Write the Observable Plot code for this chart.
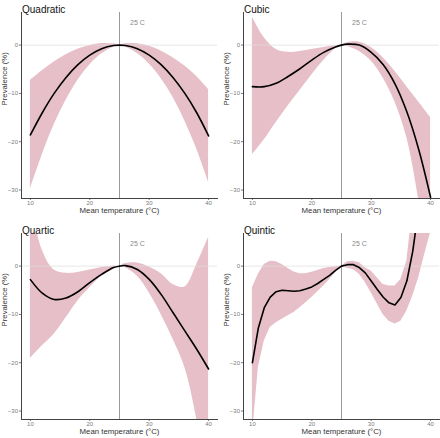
<!DOCTYPE html>
<html>
<head>
<meta charset="utf-8">
<script src="https://cdn.jsdelivr.net/npm/d3@7"></script>
<script src="https://cdn.jsdelivr.net/npm/@observablehq/plot@0.6"></script>
<style>
  html, body { margin: 0; padding: 0; background: #fff; }
  #wrap { position: relative; width: 440px; height: 438px; font-family: "Liberation Sans", Arial, sans-serif; }
  .panel { position: absolute; }
</style>
</head>
<body>
<div id="wrap"></div>
<script>
// ---- data ----
const titles = ["Quadratic", "Cubic", "Quartic", "Quintic"];
const xTicks = [10, 20, 30, 40];
const yTicks = [0, -10, -20, -30];
const xDomain = [8.5, 41.5];
const yDomain = [-31.75, 6.75];
const refX = 25;
const refY = 0;
const refLabel = "25 C";
const xLabel = "Mean temperature (°C)";
const yLabel = "Prevalence (%)";

const xSmooth = [10, 12, 14, 16, 18, 20, 22, 24, 25, 26, 28, 30, 32, 34, 36, 38, 40];

const quadFit = [-18.6, -14.0, -10.0, -6.7, -4.05, -2.07, -0.74, -0.08, 0, -0.08, -0.74, -2.07, -4.05, -6.7, -10.0, -14.0, -18.8];
const quadHi  = [-7.3, -5.3, -3.5, -2.0, -0.85, -0.07, 0.33, 0.26, 0, 0.3, 0.26, -0.24, -1.2, -2.6, -4.3, -6.5, -9.2];
const quadLo  = [-29.8, -22.7, -16.5, -11.4, -7.25, -4.1, -1.8, -0.42, 0, -0.4, -1.75, -3.9, -6.9, -10.8, -15.7, -21.5, -28.4];

const cubFit = [-8.6, -8.6, -7.9, -6.5, -4.9, -3.1, -1.5, -0.4, 0, 0.2, 0.0, -1.5, -4.0, -8.0, -13.8, -21.6, -31.5];
const cubHi  = [5.8, 1.5, -0.9, -1.5, -1.3, -0.9, -0.5, -0.15, 0, 0.5, 0.6, -0.5, -2.6, -5.4, -8.6, -11.8, -15.0];
const cubLo  = [-22.7, -19.6, -16.0, -12.6, -9.4, -6.2, -3.2, -0.7, 0, -0.3, -1.3, -3.3, -6.8, -11.8, -19.2, -32.0, -48.0];

const quarFit = [-2.8, -5.6, -6.9, -6.6, -5.3, -3.4, -1.7, -0.3, 0, 0.1, -0.7, -2.75, -5.85, -9.6, -13.4, -17.2, -21.3];
const quarHi  = [13.5, 3.3, -0.8, -1.5, -1.3, -0.8, -0.3, -0.05, 0, 0.55, 0.65, -0.2, -1.6, -3.8, -4.3, 0.3, 5.9];
const quarLo  = [-19.1, -16.5, -14.1, -10.7, -7.2, -4.5, -2.1, -0.7, 0, -0.35, -2.1, -5.5, -10.0, -15.1, -21.0, -31.7, -48.5];

const xInt = [10, 11, 12, 13, 14, 15, 16, 17, 18, 19, 20, 21, 22, 23, 24, 25, 26, 27, 28, 29, 30, 31, 32, 33, 34, 35, 36, 37, 38, 39, 40];
const quinFit = [-20.0, -12.8, -8.6, -6.4, -5.3, -5.0, -5.1, -5.2, -5.1, -4.75, -4.3, -3.6, -2.75, -1.9, -0.9, 0, 0.3, 0.3, -0.3, -1.4, -3.1, -4.8, -6.4, -7.6, -8.05, -6.5, -3.1, 3.1, 12, 25, 40];
const quinHi  = [-4.5, -1.7, 0.35, 1.0, 0.9, 0.35, -0.5, -1.2, -1.6, -1.6, -1.25, -0.9, -0.5, -0.3, -0.15, 0, 0.9, 1.0, 0.7, -0.35, -1.0, -2.4, -3.8, -4.1, -4.1, -2.75, 1.0, 12, 26, 42, 62];
const quinLo  = [-35, -21, -15.5, -12.7, -11.7, -11.0, -10.3, -9.6, -8.6, -7.6, -6.5, -5.3, -4.1, -2.75, -1.4, 0, -0.5, -0.7, -1.7, -3.4, -5.5, -7.8, -10.0, -11.4, -12.0, -11.4, -9.3, -6.2, -2.4, 2.4, 6.9];

// ---- assemble ----
const panels = [
  {title: titles[0], xs: xSmooth, fit: quadFit, hi: quadHi, lo: quadLo, curve: "catmull-rom"},
  {title: titles[1], xs: xSmooth, fit: cubFit, hi: cubHi, lo: cubLo, curve: "catmull-rom"},
  {title: titles[2], xs: xSmooth, fit: quarFit, hi: quarHi, lo: quarLo, curve: "catmull-rom"},
  {title: titles[3], xs: xInt, fit: quinFit, hi: quinHi, lo: quinLo, curve: "linear"}
];

const layout = [
  {left: 0, top: 0, width: 220, marginRight: 3},
  {left: 222, top: 0, width: 218, marginRight: 1},
  {left: 0, top: 221, width: 220, marginRight: 3},
  {left: 222, top: 221, width: 218, marginRight: 1}
];

const ribbonFill = "#e6bfc9";
const axisColor = "#444";
const tickColor = "#7a7a7a";
const wrap = document.getElementById("wrap");

panels.forEach((p, i) => {
  const L = layout[i];
  const rows = p.xs.map((x, j) => ({x, fit: p.fit[j], hi: p.hi[j], lo: p.lo[j]}));
  const chart = Plot.plot({
    width: L.width,
    height: 217,
    marginTop: 12,
    marginBottom: 19,
    marginLeft: 21,
    marginRight: L.marginRight,
    style: {fontFamily: "'Liberation Sans', Arial, sans-serif", background: "transparent", overflow: "visible"},
    x: {domain: xDomain, label: null},
    y: {domain: yDomain, label: null},
    marks: [
      Plot.areaY(rows, {x: "x", y1: "lo", y2: "hi", fill: ribbonFill, curve: p.curve, clip: true}),
      Plot.ruleY([refY], {stroke: "#dcdcdc", strokeWidth: 0.7}),
      Plot.ruleX([refX], {stroke: "#9a9a9a", strokeWidth: 1}),
      Plot.lineY(rows, {x: "x", y: "fit", stroke: "black", strokeWidth: 1.6, curve: p.curve, clip: true}),
      Plot.axisX({ticks: xTicks, tickSize: 2, tickPadding: 0.5, fontSize: 6, color: tickColor, label: null}),
      Plot.axisY({ticks: yTicks, tickSize: 2, tickPadding: 1.5, fontSize: 6, color: tickColor, label: null}),
      Plot.frame({anchor: "bottom", stroke: axisColor, strokeWidth: 1}),
      Plot.frame({anchor: "left", stroke: axisColor, strokeWidth: 1}),
      Plot.text([refLabel], {text: d => d, x: () => refX, frameAnchor: "top", dy: 8, dx: 10.5, textAnchor: "start", fontSize: 7, fill: "#888"}),
      Plot.text([p.title], {text: d => d, frameAnchor: "top-left", dy: -6.5, dx: 0.5, textAnchor: "start", fontSize: 10, fill: "#111"}),
      Plot.text([xLabel], {text: d => d, frameAnchor: "bottom", dy: 14.5, fontSize: 7.8, fill: "#333"}),
      Plot.text([yLabel], {text: d => d, frameAnchor: "left", rotate: -90, dx: -17, fontSize: 7.8, fill: "#333"})
    ]
  });
  const div = document.createElement("div");
  div.className = "panel";
  div.style.left = L.left + "px";
  div.style.top = L.top + "px";
  div.appendChild(chart);
  wrap.appendChild(div);
});
</script>
</body>
</html>
